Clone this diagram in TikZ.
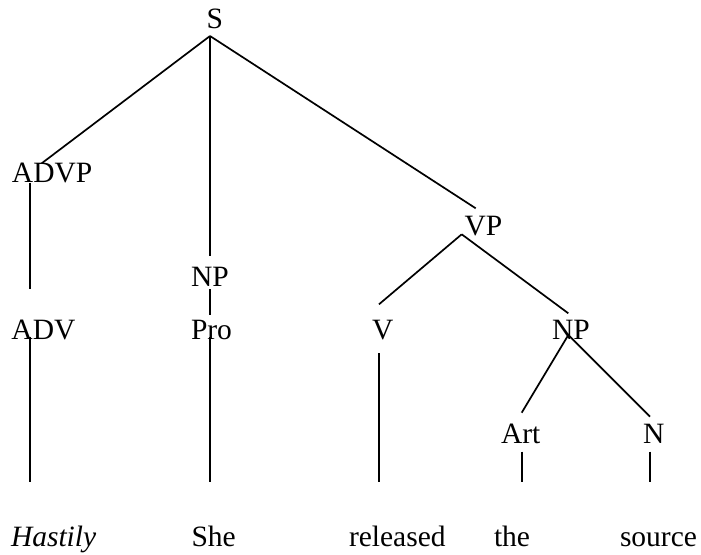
\documentclass[tikz,border=0pt]{standalone}
\usepackage{fontspec}
\setmainfont{Liberation Serif}
\usetikzlibrary{calc}
\tikzset{
  lbl/.style={anchor=base west, inner sep=0pt, outer sep=0pt, font=\fontsize{29.5}{35}\selectfont},
  branch/.style={draw=black, line width=1.7pt},
}
\begin{document}
\begin{tikzpicture}[x=1pt,y=-1pt]
\useasboundingbox (0,0) rectangle (701,554);
% labels
\node[lbl] (S) at (206.5,28.5) {S};
\node[lbl] (ADVP) at (12,182) {ADVP};
\node[lbl] (NPa) at (191,286.5) {NP};
\node[lbl] (VP) at (464.5,235) {VP};
\node[lbl] (ADV) at (11.5,339) {ADV};
\node[lbl] (Pro) at (191,339) {Pro};
\node[lbl] (V) at (372,339) {V};
\node[lbl] (NPb) at (552,339) {NP};
\node[lbl] (Art) at (501,443) {Art};
\node[lbl] (N) at (643,443) {N};
\node[lbl] (w1) at (11,546) {\itshape Hastily};
\node[lbl] (w2) at (191.5,546) {She};
\node[lbl] (w3) at (349,546) {released};
\node[lbl] (w4) at (494,546) {the};
\node[lbl] (w5) at (620,546) {source};
% branches
\draw[branch] ($(S.base west)+(3.5,7.5)$) -- ($(ADVP.base west)+(29.7,-18.7)$);
\draw[branch] ($(S.base west)+(3.5,7.5)$) -- ($(NPa.base west)+(19,-30.5)$);
\draw[branch] ($(S.base west)+(3.5,7.5)$) -- ($(VP.base west)+(11.2,-26.7)$);
\draw[branch] ($(ADVP.base west)+(18,0.7)$) -- ($(ADV.base west)+(18.5,-50)$);
\draw[branch] ($(ADV.base west)+(18.5,-2.3)$) -- ($(w1.base west)+(19,-64.3)$);
\draw[branch] ($(NPa.base west)+(19,2.5)$) -- ($(Pro.base west)+(19,-24)$);
\draw[branch] ($(Pro.base west)+(19,-2.3)$) -- ($(w2.base west)+(18.5,-64.3)$);
\draw[branch] ($(VP.base west)+(-2.8,-0.7)$) -- ($(V.base west)+(7,-34.7)$);
\draw[branch] ($(VP.base west)+(-2.8,-0.7)$) -- ($(NPb.base west)+(16.3,-25.7)$);
\draw[branch] ($(V.base west)+(7,14.3)$) -- ($(w3.base west)+(30,-64.3)$);
\draw[branch] ($(NPb.base west)+(16.3,-4)$) -- ($(Art.base west)+(20.7,-30.3)$);
\draw[branch] ($(NPb.base west)+(16.3,-4)$) -- ($(N.base west)+(7,-26.3)$);
\draw[branch] ($(Art.base west)+(20.7,8.7)$) -- ($(w4.base west)+(27.7,-64.3)$);
\draw[branch] ($(N.base west)+(7,8.7)$) -- ($(w5.base west)+(30,-64.3)$);
\end{tikzpicture}
\end{document}
